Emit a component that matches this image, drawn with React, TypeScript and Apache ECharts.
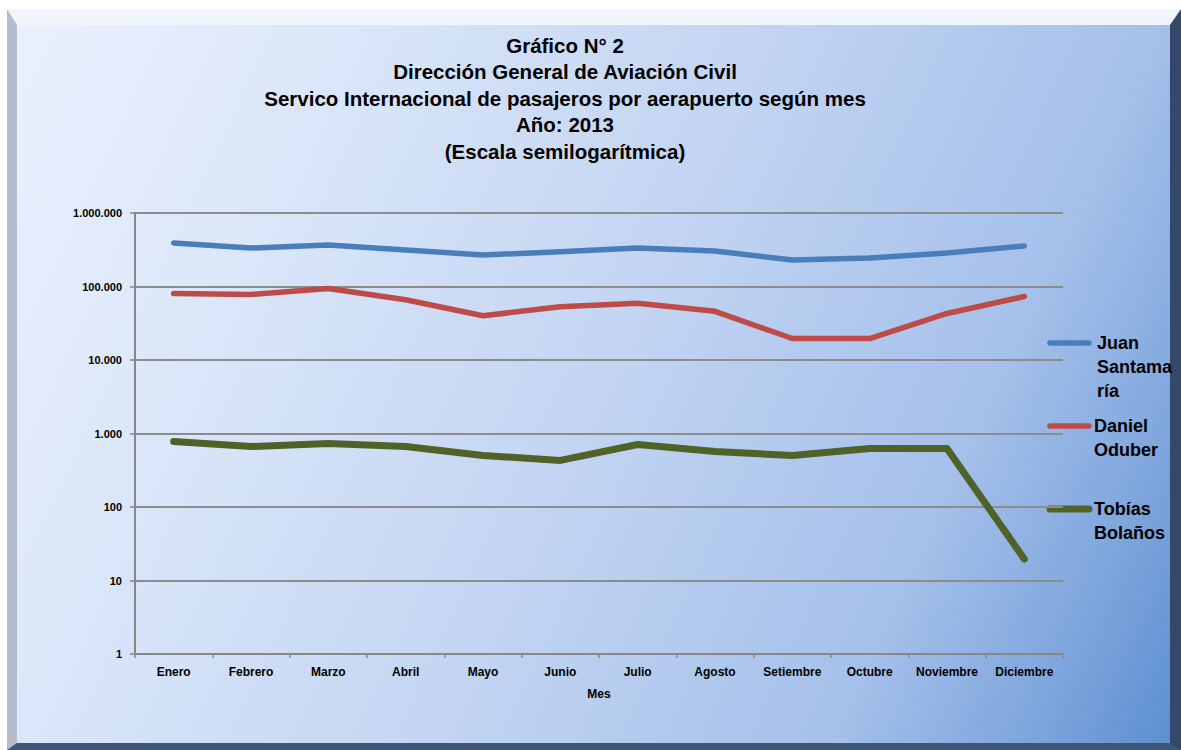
import React, { useEffect, useRef } from "react";
import * as echarts from "echarts";

const months = ["Enero", "Febrero", "Marzo", "Abril", "Mayo", "Junio", "Julio", "Agosto", "Setiembre", "Octubre", "Noviembre", "Diciembre"];
const juanSantamaria = [391000, 334000, 367000, 314000, 269000, 296000, 334000, 304000, 229000, 244000, 286000, 356000];
const danielOduber = [80000, 78000, 94000, 66000, 40000, 53000, 59000, 46000, 19600, 19600, 43000, 73000];
const tobiasBolanos = [778, 665, 731, 665, 502, 430, 708, 569, 502, 625, 625, 19.6];
const titleLines = [
  "Gráfico N° 2",
  "Dirección General de Aviación Civil",
  "Servico Internacional de pasajeros por aerapuerto según mes",
  "Año: 2013",
  "(Escala semilogarítmica)",
];
const seriesNames = ["Juan Santamaría", "Daniel Oduber", "Tobías Bolaños"];
const legendLabels = ["Juan\nSantama\nría", "Daniel\nOduber", "Tobías\nBolaños"];
const colors = ["#4a7ebb", "#be4b48", "#4f6228"];
const lineWidths = [5.5, 5.5, 7];

const FONT = "'Liberation Sans', Arial, sans-serif";

function fmt(v: number): string {
  return String(Math.round(v)).replace(/\B(?=(\d{3})+(?!\d))/g, ".");
}

export default function App() {
  const ref = useRef<HTMLDivElement>(null);
  useEffect(() => {
    if (!ref.current) return;
    const chart = echarts.init(ref.current, null, { renderer: "svg" });
    const legendY = [343, 426, 509];
    const legendTextX = [1097, 1094, 1094];
    const graphicEls: any[] = [];
    legendLabels.forEach((lab, i) => {
      graphicEls.push({
        type: "line",
        shape: { x1: 1050, y1: legendY[i], x2: 1089, y2: legendY[i] },
        style: { stroke: colors[i], lineWidth: lineWidths[i], lineCap: "round" },
      });
      graphicEls.push({
        type: "text",
        x: legendTextX[i],
        y: legendY[i] - 12,
        style: {
          text: lab,
          font: `bold 18px ${FONT}`,
          fill: "#000",
          lineHeight: 24,
          textVerticalAlign: "top",
        },
      });
    });
    chart.setOption({
      animation: false,
      textStyle: { fontFamily: FONT },
      title: {
        text: titleLines.join("\n"),
        left: 560,
        top: 27,
        textAlign: "center",
        textStyle: { fontSize: 20.5, fontWeight: "bold", color: "#000", lineHeight: 26.5, fontFamily: FONT },
      },
      grid: { left: 135, right: 118, top: 213, bottom: 96 },
      xAxis: {
        type: "category",
        data: months,
        boundaryGap: true,
        name: "Mes",
        nameLocation: "middle",
        nameGap: 34,
        nameTextStyle: { fontSize: 12, fontWeight: "bold", color: "#000", fontFamily: FONT },
        axisLine: { lineStyle: { color: "#878787", width: 2 } },
        axisTick: { show: true, length: 4, interval: 0, lineStyle: { color: "#878787", width: 1.5 } },
        axisLabel: { interval: 0, fontSize: 12, fontWeight: "bold", color: "#000", margin: 12, fontFamily: FONT },
        splitLine: { show: false },
      },
      yAxis: {
        type: "log",
        logBase: 10,
        min: 1,
        max: 1000000,
        splitNumber: 6,
        axisLine: { show: true, lineStyle: { color: "#878787", width: 2 } },
        axisTick: { show: true, length: 5, lineStyle: { color: "#878787", width: 1.5 } },
        axisLabel: { formatter: (v: number) => fmt(v), fontSize: 11, fontWeight: "bold", color: "#000", margin: 13, fontFamily: FONT },
        splitLine: { show: true, lineStyle: { color: "#8c8c8c", width: 2 } },
      },
      series: [juanSantamaria, danielOduber, tobiasBolanos].map((d, i) => ({
        name: seriesNames[i],
        type: "line",
        data: d,
        symbol: "none",
        lineStyle: { color: colors[i], width: lineWidths[i], cap: "round", join: "round" },
        itemStyle: { color: colors[i] },
      })),
      graphic: graphicEls,
    });
    return () => chart.dispose();
  }, []);
  return (
    <div style={{ position: "fixed", left: 0, top: 0, width: 1181, height: 750, background: "#ffffff" }}>
      <div
        style={{
          position: "absolute",
          left: 7,
          top: 9,
          width: 1174,
          height: 741,
          boxSizing: "border-box",
          borderLeft: "10px solid #b5bdcc",
          borderTop: "16px solid #f1f5fc",
          borderRight: "11px solid #34486a",
          borderBottom: "7px solid #3e5677",
          background:
            "linear-gradient(115deg, #eaf1fd 0%, #dae6f9 23%, #c3d5f2 50%, #a5c0ea 77%, #7fa6dd 90%, #5d8fd0 100%)",
        }}
      />
      <div ref={ref} style={{ position: "absolute", left: 0, top: 0, width: 1181, height: 750 }} />
    </div>
  );
}
